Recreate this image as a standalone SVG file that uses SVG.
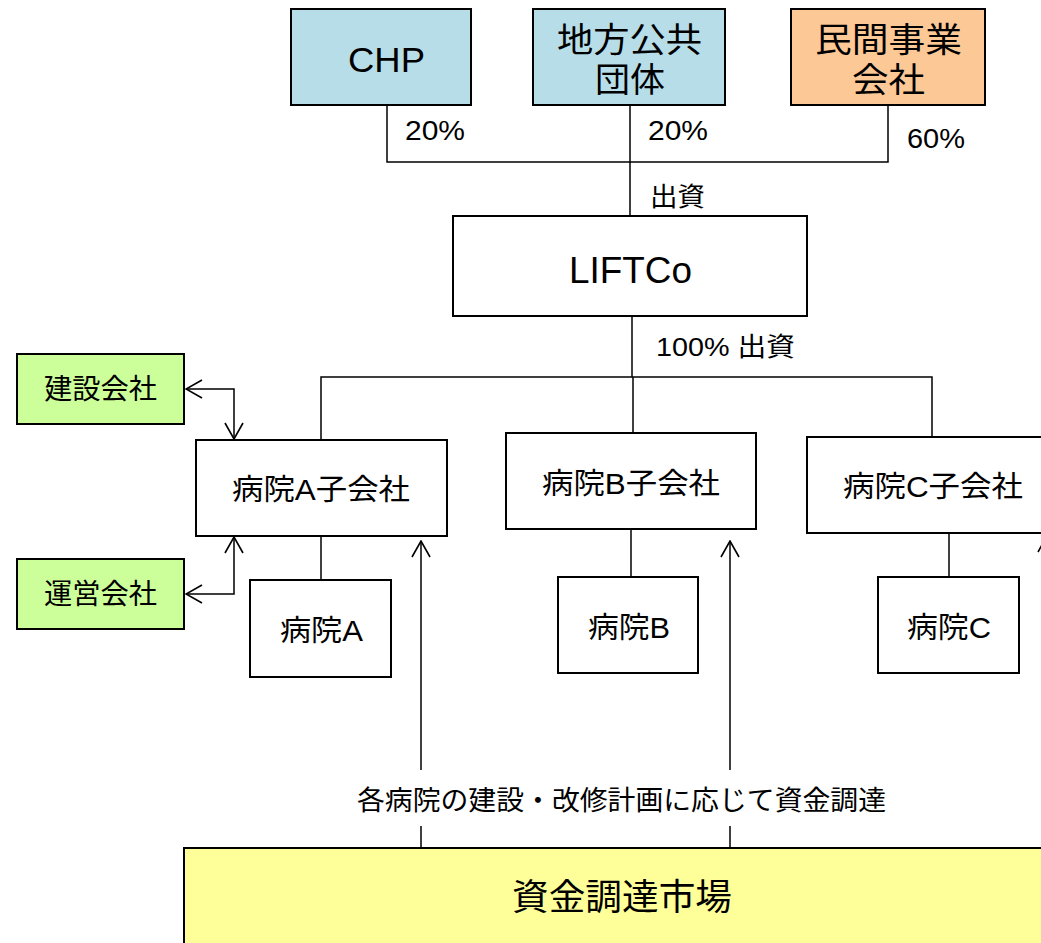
<svg xmlns="http://www.w3.org/2000/svg" width="1041" height="943" viewBox="0 0 1041 943">
<style>
.box{stroke:#000;stroke-width:2;}
.w{fill:#fff}
.blue{fill:#b7dde8}
.orange{fill:#fcc896}
.green{fill:#ccff99}
.yellow{fill:#ffff99}
text{font-family:"Liberation Sans","Noto Sans CJK JP",sans-serif;fill:#000}
.ln{stroke:#000;stroke-width:1.5;fill:none}
</style>
<defs>
<marker id="arr" viewBox="0 0 18 20" markerWidth="18" markerHeight="20" refX="17" refY="10" orient="auto-start-reverse" markerUnits="userSpaceOnUse">
<path d="M1,1 L17,10 L1,19" fill="none" stroke="#000" stroke-width="1.6"/>
</marker>
</defs>
<g id="connectors">
<polyline class="ln" points="387,105 387,162 888,162 888,105"/>
<line class="ln" x1="630" y1="105" x2="630" y2="216"/>
<line class="ln" x1="632" y1="316" x2="632" y2="377"/>
<polyline class="ln" points="321,440 321,377 932,377 932,437"/>
<line class="ln" x1="633" y1="377" x2="633" y2="433"/>
<line class="ln" x1="321" y1="536" x2="321" y2="580"/>
<line class="ln" x1="631" y1="529" x2="631" y2="577"/>
<line class="ln" x1="949" y1="533" x2="949" y2="577"/>
<polyline class="ln" points="186,389 234,389 234,439" marker-start="url(#arr)" marker-end="url(#arr)"/>
<polyline class="ln" points="186,594 234,594 234,537" marker-start="url(#arr)" marker-end="url(#arr)"/>
<line class="ln" x1="421" y1="770" x2="421" y2="541" marker-end="url(#arr)"/>
<line class="ln" x1="421" y1="848" x2="421" y2="826"/>
<line class="ln" x1="730" y1="770" x2="730" y2="541" marker-end="url(#arr)"/>
<line class="ln" x1="730" y1="848" x2="730" y2="826"/>
<line class="ln" x1="1047" y1="700" x2="1047" y2="536" marker-end="url(#arr)"/>
</g>
<g id="label-20a"><text x="405" y="140" font-size="27" textLength="60" lengthAdjust="spacingAndGlyphs">20%</text></g>
<g id="label-20b"><text x="648" y="140" font-size="27" textLength="60" lengthAdjust="spacingAndGlyphs">20%</text></g>
<g id="label-60"><text x="907" y="148" font-size="27" textLength="58" lengthAdjust="spacingAndGlyphs">60%</text></g>
<g id="label-shusshi"><text x="650" y="206" font-size="26" textLength="55" lengthAdjust="spacingAndGlyphs">出資</text></g>
<g id="label-100"><text x="656" y="356" font-size="26" textLength="139" lengthAdjust="spacingAndGlyphs">100% 出資</text></g>
<g id="chp"><rect class="box blue" x="291" y="9" width="180" height="96"/><text x="348" y="72" font-size="35" textLength="77" lengthAdjust="spacingAndGlyphs">CHP</text></g>
<g id="chiho"><rect class="box blue" x="533" y="9" width="192" height="96"/><text x="557" y="52" font-size="34" textLength="145" lengthAdjust="spacingAndGlyphs">地方公共</text><text x="595" y="92" font-size="34" textLength="70" lengthAdjust="spacingAndGlyphs">団体</text></g>
<g id="minkan"><rect class="box orange" x="791" y="9" width="194" height="96"/><text x="815" y="52" font-size="34" textLength="147" lengthAdjust="spacingAndGlyphs">民間事業</text><text x="852" y="92" font-size="34" textLength="73" lengthAdjust="spacingAndGlyphs">会社</text></g>
<g id="liftco"><rect class="box w" x="453" y="216" width="354" height="100"/><text x="569" y="283" font-size="36" textLength="123" lengthAdjust="spacingAndGlyphs">LIFTCo</text></g>
<g id="kensetsu"><rect class="box green" x="17" y="354" width="167" height="70"/><text x="44" y="399" font-size="28" textLength="113" lengthAdjust="spacingAndGlyphs">建設会社</text></g>
<g id="unei"><rect class="box green" x="17" y="559" width="167" height="70"/><text x="44" y="604" font-size="28" textLength="113" lengthAdjust="spacingAndGlyphs">運営会社</text></g>
<g id="subA"><rect class="box w" x="196" y="440" width="251" height="96"/><text x="232" y="500" font-size="29" textLength="178" lengthAdjust="spacingAndGlyphs">病院A子会社</text></g>
<g id="subB"><rect class="box w" x="506" y="433" width="250" height="96"/><text x="542" y="494" font-size="29" textLength="178" lengthAdjust="spacingAndGlyphs">病院B子会社</text></g>
<g id="subC"><rect class="box w" x="807" y="437" width="240" height="96"/><text x="843" y="497" font-size="29" textLength="180" lengthAdjust="spacingAndGlyphs">病院C子会社</text></g>
<g id="hospA"><rect class="box w" x="250" y="580" width="141" height="97"/><text x="280" y="641" font-size="29" textLength="83" lengthAdjust="spacingAndGlyphs">病院A</text></g>
<g id="hospB"><rect class="box w" x="558" y="577" width="140" height="96"/><text x="588" y="638" font-size="29" textLength="82" lengthAdjust="spacingAndGlyphs">病院B</text></g>
<g id="hospC"><rect class="box w" x="878" y="577" width="141" height="96"/><text x="907" y="638" font-size="29" textLength="84" lengthAdjust="spacingAndGlyphs">病院C</text></g>
<g id="label-funding"><text x="357" y="810" font-size="27" textLength="529" lengthAdjust="spacingAndGlyphs">各病院の建設・改修計画に応じて資金調達</text></g>
<g id="market"><rect class="box yellow" x="184" y="848" width="870" height="100"/><text x="512" y="910" font-size="36" textLength="220" lengthAdjust="spacingAndGlyphs">資金調達市場</text></g>
</svg>
